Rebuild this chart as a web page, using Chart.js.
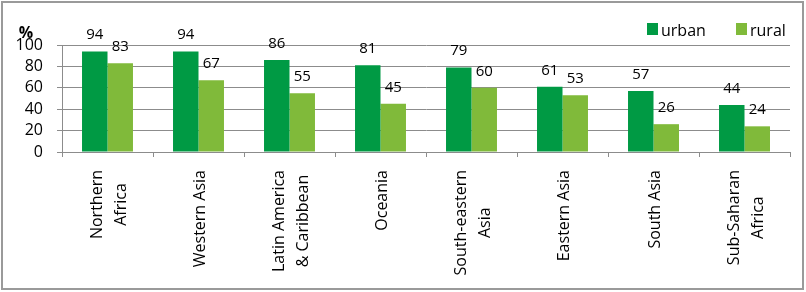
<!DOCTYPE html>
<html><head><meta charset="utf-8">
<script src="https://cdn.jsdelivr.net/npm/chart.js@4/dist/chart.umd.min.js"></script>
<style>html,body{margin:0;padding:0;background:#fff;}canvas{display:block;}</style>
</head><body>
<canvas id="c" width="806" height="292"></canvas>
<script>
const categories = [
  ["Northern", "Africa"],
  ["Western Asia"],
  ["Latin America", "& Caribbean"],
  ["Oceania"],
  ["South-eastern", "Asia"],
  ["Eastern Asia"],
  ["South Asia"],
  ["Sub-Saharan", "Africa"]
];
const urbanValues = [94, 94, 86, 81, 79, 61, 57, 44];
const ruralValues = [83, 67, 55, 45, 60, 53, 26, 24];
const yTicks = [0, 20, 40, 60, 80, 100];
const seriesNames = ["urban", "rural"];
const seriesColors = ["#009a44", "#80ba3a"];

const FONT = "'Open Sans', sans-serif";
const GRID = "#8c8c8c";

const extras = {
  id: "extras",
  beforeDraw(chart) {
    const ctx = chart.ctx;
    ctx.save();
    ctx.fillStyle = "#fff";
    ctx.fillRect(0, 0, chart.width, chart.height);
    ctx.restore();
  },
  afterDraw(chart) {
    const ctx = chart.ctx;
    const xs = chart.scales.x;
    ctx.save();
    ctx.strokeStyle = "#9a9a9a";
    ctx.lineWidth = 2;
    ctx.strokeRect(2, 2, 801, 287);
    ctx.fillStyle = "#000";
    ctx.font = "15px " + FONT;
    ctx.textAlign = "center";
    ctx.textBaseline = "alphabetic";
    chart.data.datasets.forEach((ds, di) => {
      const meta = chart.getDatasetMeta(di);
      meta.data.forEach((bar, i) => {
        ctx.fillText(String(ds.data[i]), bar.x, bar.y - 12);
      });
    });
    ctx.font = "16px " + FONT;
    ctx.textBaseline = "middle";
    const lh = 24;
    const top = xs.top + 18;
    chart.data.labels.forEach((lines, i) => {
      const cx = xs.getPixelForTick(i) + 2;
      let maxW = 0;
      lines.forEach(l => { maxW = Math.max(maxW, ctx.measureText(l).width); });
      const yc = top + maxW / 2;
      ctx.save();
      ctx.translate(cx, 0);
      ctx.rotate(-Math.PI / 2);
      lines.forEach((l, k) => {
        const v = (k - (lines.length - 1) / 2) * lh;
        ctx.fillText(l, -yc, v);
      });
      ctx.restore();
    });
    ctx.font = "bold 16px " + FONT;
    ctx.textAlign = "center";
    ctx.textBaseline = "alphabetic";
    ctx.fillText("%", 26, 38);
    ctx.font = "16px " + FONT;
    ctx.textAlign = "left";
    const legX = [647, 736];
    chart.data.datasets.forEach((ds, di) => {
      ctx.fillStyle = ds.backgroundColor;
      ctx.fillRect(legX[di], 23, 11, 12);
      ctx.fillStyle = "#000";
      ctx.fillText(ds.label, legX[di] + 14, 36);
    });
    ctx.restore();
  }
};

new Chart(document.getElementById("c"), {
  type: "bar",
  data: {
    labels: categories,
    datasets: [
      { label: seriesNames[0], data: urbanValues, backgroundColor: seriesColors[0] },
      { label: seriesNames[1], data: ruralValues, backgroundColor: seriesColors[1] }
    ]
  },
  options: {
    responsive: false,
    animation: false,
    devicePixelRatio: 1,
    layout: { padding: { top: 45, right: 16, bottom: 0, left: 0 } },
    datasets: { bar: { categoryPercentage: 0.56, barPercentage: 1.0 } },
    plugins: { legend: { display: false }, tooltip: { enabled: false } },
    scales: {
      x: {
        offset: true,
        grid: { display: true, offset: true, drawOnChartArea: false, drawTicks: true, tickLength: 5, color: GRID },
        border: { display: true, color: GRID, width: 1 },
        ticks: { display: false },
        afterFit(s) { s.height = 140; }
      },
      y: {
        min: 0, max: 100,
        afterBuildTicks(s) { s.ticks = yTicks.map(v => ({ value: v })); },
        grid: { color: GRID, tickLength: 5, drawTicks: true },
        border: { display: true, color: GRID, width: 1 },
        ticks: { font: { family: FONT, size: 16 }, color: "#000", padding: 14, autoSkip: false },
        afterFit(s) { s.width = 62; }
      }
    }
  },
  plugins: [extras]
});
</script>
</body></html>
